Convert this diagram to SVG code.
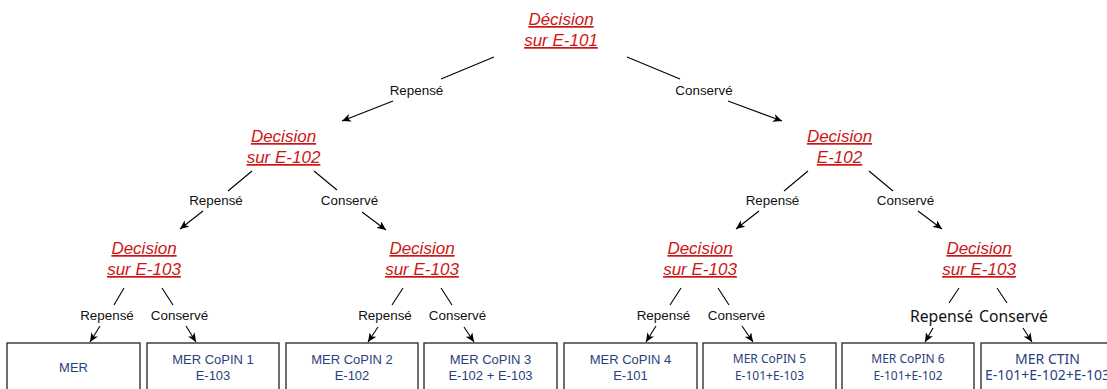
<svg xmlns="http://www.w3.org/2000/svg" width="1107" height="389" viewBox="0 0 1107 389">
<style>
.dec{font-family:"Liberation Sans",Arial,sans-serif;font-style:italic;font-size:17px;fill:#cc1616;text-anchor:middle;text-decoration:underline}
.lbl{font-family:"Liberation Sans",Arial,sans-serif;font-size:13.4px;fill:#111;text-anchor:middle}
.lbl2{font-family:"Noto Sans",sans-serif;font-size:15.7px;fill:#111;text-anchor:middle}
.box{fill:#fff;stroke:#333;stroke-width:1.4}
.bt{font-family:"Liberation Sans",Arial,sans-serif;font-size:13px;fill:#2a3f7c;text-anchor:middle}
.bt2{font-family:"Noto Sans",sans-serif;font-size:12px;fill:#2a3f7c;text-anchor:middle}
.bt3{font-family:"Noto Sans",sans-serif;font-size:14px;fill:#2a3f7c;text-anchor:middle}
.edge{fill:none;stroke:#000;stroke-width:1.1;marker-end:url(#arr)}
</style>
<defs>
<marker id="arr" markerWidth="10" markerHeight="8" refX="9" refY="4" orient="auto" markerUnits="userSpaceOnUse">
<path d="M0,0 L9,4 L0,8 L2.5,4 Z" fill="#000"/>
</marker>
</defs>
<rect width="1107" height="389" fill="#fff"/>

<g id="connectors">
<path class="edge" d="M494,57 L441,79 M393,101 L342,121"/>
<path class="edge" d="M627,57 L680,79 M728,101 L782,121"/>
<path class="edge" d="M252,171 L228,191 M203,211 L180,229"/>
<path class="edge" d="M314,171 L337,190 M362,212 L386,230"/>
<path class="edge" d="M808,171 L784,191 M759,211 L736,229"/>
<path class="edge" d="M869,171 L893,191 M918,211 L942,229"/>
<path class="edge" d="M124,288 L114,305 M100,326 L90,342"/>
<path class="edge" d="M162,288 L173,305 M186,326 L196,342"/>
<path class="edge" d="M403,288 L392,305 M378,327 L368,342"/>
<path class="edge" d="M441,288 L452,305 M464,327 L474,342"/>
<path class="edge" d="M681,288 L670,305 M656,326 L646,342"/>
<path class="edge" d="M718,288 L729,305 M742,326 L753,342"/>
<path class="edge" d="M959,288 L949,303 M933,328 L925,342"/>
<path class="edge" d="M997,288 L1007,303 M1023,328 L1032,342"/>
<text class="lbl" x="416.5" y="95">Repensé</text>
<text class="lbl" x="704" y="95">Conservé</text>
<text class="lbl" x="216" y="205">Repensé</text>
<text class="lbl" x="349.5" y="205">Conservé</text>
<text class="lbl" x="772.5" y="205">Repensé</text>
<text class="lbl" x="905.5" y="205">Conservé</text>
<text class="lbl" x="107" y="320">Repensé</text>
<text class="lbl" x="179.5" y="320">Conservé</text>
<text class="lbl" x="385" y="320">Repensé</text>
<text class="lbl" x="457.5" y="320">Conservé</text>
<text class="lbl" x="663.5" y="320">Repensé</text>
<text class="lbl" x="736.5" y="320">Conservé</text>
<text class="lbl2" x="941.5" y="322">Repensé</text>
<text class="lbl2" x="1013.5" y="322">Conservé</text>
</g>

<g id="d101"><text class="dec" x="561" y="25">Décision</text><text class="dec" x="561" y="46">sur E-101</text></g>
<g id="d102a"><text class="dec" x="283.5" y="142">Decision</text><text class="dec" x="283.5" y="163">sur E-102</text></g>
<g id="d102b"><text class="dec" x="839.5" y="142">Decision</text><text class="dec" x="839.5" y="163">E-102</text></g>
<g id="d103a"><text class="dec" x="144" y="254">Decision</text><text class="dec" x="144" y="275">sur E-103</text></g>
<g id="d103b"><text class="dec" x="422" y="254">Decision</text><text class="dec" x="422" y="275">sur E-103</text></g>
<g id="d103c"><text class="dec" x="700" y="254">Decision</text><text class="dec" x="700" y="275">sur E-103</text></g>
<g id="d103d"><text class="dec" x="979" y="254">Decision</text><text class="dec" x="979" y="275">sur E-103</text></g>

<g id="b1"><rect class="box" x="7" y="343" width="133" height="60"/><text class="bt" x="73.5" y="372">MER</text></g>
<g id="b2"><rect class="box" x="147" y="343" width="132" height="60"/><text class="bt" x="213" y="364">MER CoPIN 1</text><text class="bt" x="213" y="380">E-103</text></g>
<g id="b3"><rect class="box" x="286" y="343" width="132" height="60"/><text class="bt" x="352" y="364">MER CoPIN 2</text><text class="bt" x="352" y="380">E-102</text></g>
<g id="b4"><rect class="box" x="424" y="343" width="133" height="60"/><text class="bt" x="490.5" y="364">MER CoPIN 3</text><text class="bt" x="490.5" y="380">E-102 + E-103</text></g>
<g id="b5"><rect class="box" x="564" y="343" width="133" height="60"/><text class="bt" x="630.5" y="364">MER CoPIN 4</text><text class="bt" x="630.5" y="380">E-101</text></g>
<g id="b6"><rect class="box" x="703" y="343" width="133" height="60"/><text class="bt2" x="769.5" y="363">MER CoPIN 5</text><text class="bt2" x="769.5" y="380">E-101+E-103</text></g>
<g id="b7"><rect class="box" x="842" y="343" width="132" height="60"/><text class="bt2" x="908" y="363">MER CoPIN 6</text><text class="bt2" x="908" y="380">E-101+E-102</text></g>
<g id="b8"><rect class="box" x="981" y="343" width="133" height="60"/><text class="bt3" x="1047.5" y="364">MER CTIN</text><text class="bt3" x="1047.5" y="380">E-101+E-102+E-103</text></g>
</svg>
